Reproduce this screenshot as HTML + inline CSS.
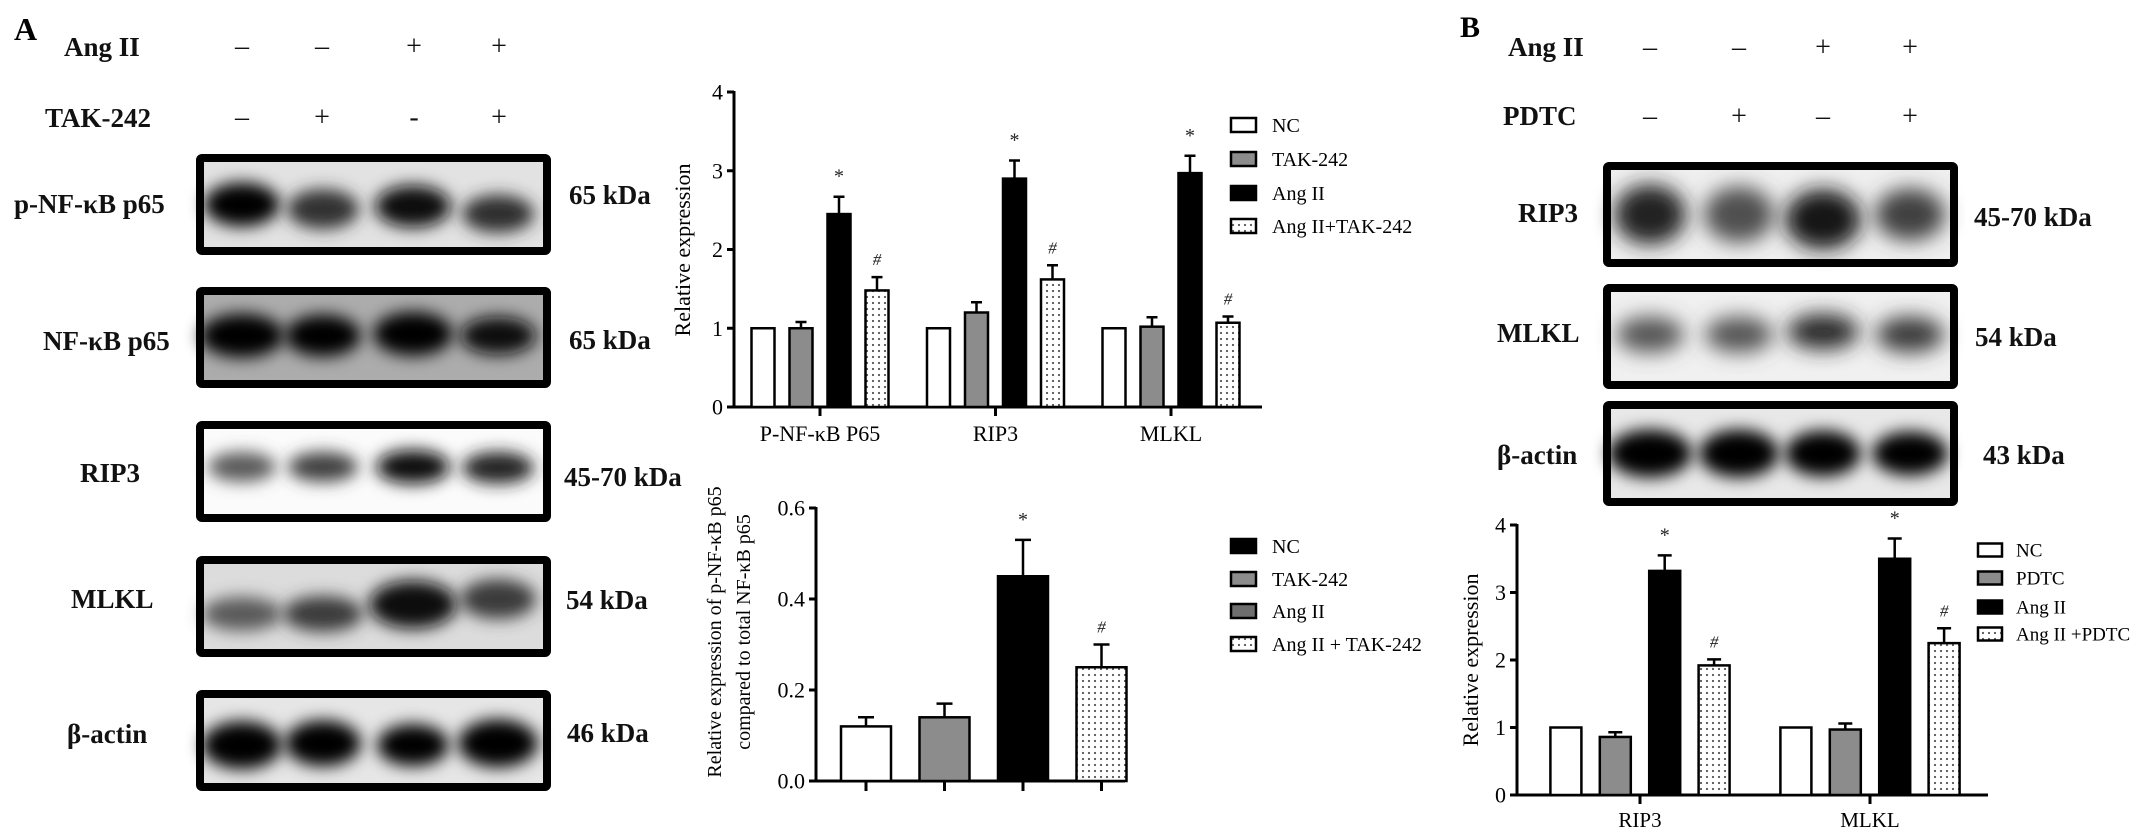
<!DOCTYPE html>
<html><head><meta charset="utf-8">
<style>
html,body{margin:0;padding:0;background:#fff;}
svg{display:block;font-family:"Liberation Serif",serif;}
.lb{font-weight:bold;font-size:27px;fill:#111;}
</style></head>
<body>
<svg id="fig" width="2150" height="840" viewBox="0 0 2150 840" xmlns="http://www.w3.org/2000/svg">
<defs>
 <filter id="bl" x="-30%" y="-60%" width="160%" height="220%"><feGaussianBlur stdDeviation="8"/></filter>
 <filter id="bl2" x="-30%" y="-60%" width="160%" height="220%"><feGaussianBlur stdDeviation="10"/></filter>
 <pattern id="dots" width="6" height="6" patternUnits="userSpaceOnUse">
  <rect width="6" height="6" fill="#fff"/><circle cx="3" cy="3" r="1.1" fill="#555"/>
 </pattern>
</defs>

<!-- Panel A header -->
<text x="14" y="40" font-size="32" font-weight="bold">A</text>
<text class="lb" x="64" y="56">Ang II</text>
<text class="lb" x="45" y="127">TAK-242</text>
<g font-size="28" text-anchor="middle" fill="#111">
 <text x="242" y="55">–</text><text x="322" y="55">–</text><text x="414" y="55">+</text><text x="499" y="55">+</text>
 <text x="242" y="126">–</text><text x="322" y="126">+</text><text x="414" y="126">-</text><text x="499" y="126">+</text>
</g>

<!-- Panel A blots -->
<g id="blotsA"></g>
<g class="lb">
 <text x="14" y="213">p-NF-κB p65</text>
 <text x="43" y="350">NF-κB p65</text>
 <text x="80" y="482">RIP3</text>
 <text x="71" y="608">MLKL</text>
 <text x="67" y="743">β-actin</text>
</g>
<g class="lb">
 <text x="569" y="204">65 kDa</text>
 <text x="569" y="349">65 kDa</text>
 <text x="564" y="486">45-70 kDa</text>
 <text x="566" y="609">54 kDa</text>
 <text x="567" y="742">46 kDa</text>
</g>

<!-- Panel B header -->
<text x="1460" y="37" font-size="30" font-weight="bold">B</text>
<text class="lb" x="1508" y="56">Ang II</text>
<text class="lb" x="1503" y="125">PDTC</text>
<g font-size="28" text-anchor="middle" fill="#111">
 <text x="1650" y="56">–</text><text x="1739" y="56">–</text><text x="1823" y="56">+</text><text x="1910" y="56">+</text>
 <text x="1650" y="125">–</text><text x="1739" y="125">+</text><text x="1823" y="125">–</text><text x="1910" y="125">+</text>
</g>
<g id="blotsB"></g>
<g class="lb">
 <text x="1518" y="222">RIP3</text>
 <text x="1497" y="342">MLKL</text>
 <text x="1497" y="464">β-actin</text>
</g>
<g class="lb">
 <text x="1974" y="226">45-70 kDa</text>
 <text x="1975" y="346">54 kDa</text>
 <text x="1983" y="464">43 kDa</text>
</g>

<g id="charts"></g>
</svg>

<script>
// ---------- Chart A1 data ----------
const a1Categories = ['P-NF-κB P65', 'RIP3', 'MLKL'];
const a1Series = ['NC', 'TAK-242', 'Ang II', 'Ang II+TAK-242'];
const a1NC = [1, 1, 1];
const a1TAK = [1.0, 1.2, 1.02];
const a1Ang = [2.45, 2.9, 2.97];
const a1Combo = [1.48, 1.62, 1.07];
const a1ErrNC = [0, 0, 0];
const a1ErrTAK = [0.08, 0.13, 0.12];
const a1ErrAng = [0.22, 0.23, 0.22];
const a1ErrCombo = [0.17, 0.18, 0.08];
const a1MarksAng = ['*', '*', '*'];
const a1MarksCombo = ['#', '#', '#'];
const a1Ticks = [0, 1, 2, 3, 4];
const a1TickLabels = ['0', '1', '2', '3', '4'];

// ---------- Chart A2 data ----------
const a2Categories = ['NC', 'TAK-242', 'Ang II', 'Ang II + TAK-242'];
const a2Values = [0.12, 0.14, 0.45, 0.25];
const a2Errors = [0.02, 0.03, 0.08, 0.05];
const a2Marks = ['', '', '*', '#'];
const a2Ticks = [0, 0.2, 0.4, 0.6];
const a2TickLabels = ['0.0', '0.2', '0.4', '0.6'];

// ---------- Chart B data ----------
const bCategories = ['RIP3', 'MLKL'];
const bSeries = ['NC', 'PDTC', 'Ang II', 'Ang II +PDTC'];
const bNC = [1, 1];
const bPDTC = [0.86, 0.97];
const bAng = [3.32, 3.5];
const bCombo = [1.92, 2.25];
const bErrNC = [0, 0];
const bErrPDTC = [0.07, 0.09];
const bErrAng = [0.23, 0.3];
const bErrCombo = [0.09, 0.22];
const bMarksAng = ['*', '*'];
const bMarksCombo = ['#', '#'];
const bTicks = [0, 1, 2, 3, 4];
const bTickLabels = ['0', '1', '2', '3', '4'];

const NS = 'http://www.w3.org/2000/svg';
function mk(tag, attrs, parent) {
  const e = document.createElementNS(NS, tag);
  for (const k in attrs) e.setAttribute(k, attrs[k]);
  parent.appendChild(e);
  return e;
}
const FILLS = ['#ffffff', '#8c8c8c', '#000000', 'url(#dots)'];

// ---------- blots ----------
function blot(parent, name, x, y, w, h, bg, lanes, bands) {
  const g = mk('g', {}, parent);
  
  
  mk('rect', {x: x, y: y, width: w, height: h, fill: bg}, g);
  bands.forEach((b, i) => {
    mk('ellipse', {cx: lanes[i] + (b.dx || 0), cy: y + h * b.cy, rx: b.rx, ry: b.ry, fill: b.c, filter: b.f || 'url(#bl)'}, g);
  });
  mk('rect', {x: x, y: y, width: w, height: h, fill: 'none', stroke: '#000', 'stroke-width': 8, rx: 2}, g);
}
const LA = [242, 323, 413, 498];
const bA = document.getElementById('blotsA');
blot(bA, 'blot-p-nf-kb-p65', 200, 158, 347, 93, '#e2e2e2', LA, [
  {cy: .5, rx: 38, ry: 22, c: '#050505'}, {cy: .55, rx: 36, ry: 20, c: '#333'}, {cy: .52, rx: 38, ry: 21, c: '#111'}, {cy: .6, rx: 36, ry: 19, c: '#2e2e2e'}]);
blot(bA, 'blot-nf-kb-p65', 200, 291, 347, 93, '#acacac', LA, [
  {cy: .48, rx: 42, ry: 22, c: '#000'}, {cy: .48, rx: 38, ry: 21, c: '#000'}, {cy: .46, rx: 40, ry: 22, c: '#000'}, {cy: .48, rx: 38, ry: 19, c: '#0c0c0c'}]);
blot(bA, 'blot-rip3-a', 200, 425, 347, 93, '#fbfbfb', LA, [
  {cy: .45, rx: 34, ry: 15, c: '#5a5a5a'}, {cy: .45, rx: 35, ry: 15, c: '#404040'}, {cy: .45, rx: 37, ry: 17, c: '#111'}, {cy: .46, rx: 36, ry: 16, c: '#222'}]);
blot(bA, 'blot-mlkl-a', 200, 560, 347, 93, '#dcdcdc', LA, [
  {cy: .58, rx: 40, ry: 17, c: '#5a5a5a'}, {cy: .58, rx: 40, ry: 18, c: '#3a3a3a'}, {cy: .48, rx: 44, ry: 24, c: '#111'}, {cy: .42, rx: 38, ry: 20, c: '#3a3a3a'}]);
blot(bA, 'blot-beta-actin-a', 200, 694, 347, 93, '#e6e6e6', LA, [
  {cy: .55, rx: 40, ry: 24, c: '#000'}, {cy: .53, rx: 38, ry: 23, c: '#000'}, {cy: .55, rx: 36, ry: 21, c: '#000'}, {cy: .53, rx: 40, ry: 24, c: '#000'}]);

const LB = [1650, 1739, 1823, 1910];
const bB = document.getElementById('blotsB');
blot(bB, 'blot-rip3-b', 1607, 166, 347, 97, '#efefef', LB, [
  {cy: .5, rx: 36, ry: 30, c: '#202020', f: 'url(#bl2)'}, {cy: .5, rx: 35, ry: 28, c: '#505050', f: 'url(#bl2)'}, {cy: .55, rx: 38, ry: 30, c: '#151515', f: 'url(#bl2)'}, {cy: .5, rx: 35, ry: 26, c: '#404040', f: 'url(#bl2)'}]);
blot(bB, 'blot-mlkl-b', 1607, 288, 347, 97, '#f0f0f0', LB, [
  {cy: .48, rx: 34, ry: 18, c: '#555', f: 'url(#bl2)'}, {cy: .48, rx: 34, ry: 18, c: '#555', f: 'url(#bl2)'}, {cy: .45, rx: 36, ry: 18, c: '#2a2a2a', f: 'url(#bl2)'}, {cy: .48, rx: 34, ry: 18, c: '#3a3a3a', f: 'url(#bl2)'}]);
blot(bB, 'blot-beta-actin-b', 1607, 405, 347, 97, '#e8e8e8', LB, [
  {cy: .5, rx: 42, ry: 24, c: '#000'}, {cy: .5, rx: 40, ry: 24, c: '#000'}, {cy: .5, rx: 38, ry: 23, c: '#000'}, {cy: .5, rx: 38, ry: 22, c: '#050505'}]);

// ---------- chart helpers ----------
const charts = document.getElementById('charts');
function yAxis(g, ax, y0, unit, ticks, labels, fs) {
  mk('line', {x1: ax, y1: y0 + 1, x2: ax, y2: y0 - ticks[ticks.length - 1] * unit - 1, stroke: '#000', 'stroke-width': 3}, g);
  ticks.forEach((t, i) => {
    const y = y0 - t * unit;
    const tk = mk('line', {x1: ax - 7, y1: y, x2: ax, y2: y, stroke: '#000', 'stroke-width': 3}, g);
    
    
    const lb = mk('text', {x: ax - 11, y: y + fs * 0.35, 'font-size': fs, 'text-anchor': 'end'}, g);
    
    
    lb.textContent = labels[i];
  });
}
function bar(g, cx, w, y0, unit, v, err, fill, cap, mark, name) {
  const top = y0 - v * unit;
  const r = mk('rect', {x: cx - w / 2, y: top, width: w, height: v * unit, fill: fill, stroke: '#000', 'stroke-width': 2.5}, g);
  
  
  if (err > 0) {
    const et = top - err * unit;
    const el = mk('path', {d: 'M' + cx + ' ' + top + 'V' + et + 'M' + (cx - cap / 2) + ' ' + et + 'H' + (cx + cap / 2), stroke: '#000', 'stroke-width': 2.5, fill: 'none'}, g);
    
    
  }
  if (mark) {
    const mt = mk('text', {x: cx, y: top - err * unit - (mark === '*' ? 14 : 12), 'font-size': mark === '*' ? 20 : 17, 'text-anchor': 'middle', 'font-style': mark === '#' ? 'italic' : 'normal', fill: '#222'}, g);
    
    
    mt.textContent = mark;
  }
}
function legend(g, x, ys, labels, fills, bw, bh, fs, tx) {
  labels.forEach((l, i) => {
    const e = mk('g', {}, g);
    
    
    mk('rect', {x: x, y: ys[i] - bh / 2, width: bw, height: bh, fill: fills[i], stroke: '#000', 'stroke-width': 2.5}, e);
    const t = mk('text', {x: tx, y: ys[i] + fs * 0.35, 'font-size': fs}, e);
    t.textContent = l;
  });
}

// ---------- Chart A1 ----------
(function () {
  const g = mk('g', {}, charts);
  
  
  const ax = 734, y0 = 407, unit = 78.75, x0 = 820, gs = 175.5, pitch = 38, bw = 23;
  const xC = i => x0 + i * gs;
  yAxis(g, ax, y0, unit, a1Ticks, a1TickLabels, 22);
  mk('line', {x1: ax, y1: y0, x2: 1262, y2: y0, stroke: '#000', 'stroke-width': 3}, g);
  const t = mk('text', {x: 0, y: 0, 'font-size': 22, 'text-anchor': 'middle', transform: 'translate(690,250) rotate(-90)'}, g);
  
  
  t.textContent = 'Relative expression';
  const series = [a1NC, a1TAK, a1Ang, a1Combo], errs = [a1ErrNC, a1ErrTAK, a1ErrAng, a1ErrCombo];
  a1Categories.forEach((c, i) => {
    series.forEach((s, j) => {
      const mark = j === 2 ? a1MarksAng[i] : (j === 3 ? a1MarksCombo[i] : '');
      bar(g, xC(i) + (j - 1.5) * pitch, bw, y0, unit, s[i], errs[j][i], FILLS[j], 11, mark, 'bar-' + j + '-' + i);
    });
    mk('line', {x1: xC(i), y1: y0, x2: xC(i), y2: y0 + 9, stroke: '#000', 'stroke-width': 3}, g);
    const cl = mk('text', {x: xC(i), y: y0 + 34, 'font-size': 22, 'text-anchor': 'middle'}, g);
    
    
    cl.textContent = c;
  });
  legend(g, 1231, [125, 159, 193, 226], a1Series, FILLS, 25, 14, 20, 1272);
})();

// ---------- Chart A2 ----------
(function () {
  const g = mk('g', {}, charts);
  
  
  const ax = 816, y0 = 781, unit = 455, x0 = 866, pitch = 78.5, bw = 50;
  yAxis(g, ax, y0, unit, a2Ticks, a2TickLabels, 22);
  mk('line', {x1: ax, y1: y0, x2: 1125, y2: y0, stroke: '#000', 'stroke-width': 3}, g);
  const t = mk('text', {x: 0, y: 0, 'font-size': 20, 'text-anchor': 'middle', transform: 'translate(721,632) rotate(-90)'}, g);
  
  
  t.textContent = 'Relative expression of p-NF-κB p65';
  const t2 = mk('text', {x: 0, y: 0, 'font-size': 20, 'text-anchor': 'middle', transform: 'translate(750,632) rotate(-90)'}, g);
  
  
  t2.textContent = 'compared to total NF-κB p65';
  a2Values.forEach((v, i) => {
    const cx = x0 + i * pitch;
    bar(g, cx, bw, y0, unit, v, a2Errors[i], FILLS[i], 16, a2Marks[i], 'bar-' + i);
    mk('line', {x1: cx, y1: y0, x2: cx, y2: y0 + 10, stroke: '#000', 'stroke-width': 3}, g);
  });
  legend(g, 1231, [546, 579, 611, 644], a2Categories, ['#000', '#8c8c8c', '#6e6e6e', 'url(#dots)'], 25, 14, 20, 1272);
})();

// ---------- Chart B ----------
(function () {
  const g = mk('g', {}, charts);
  
  
  const ax = 1517, y0 = 795, unit = 67.5, x0 = 1640, gs = 230, pitch = 49.4, bw = 31;
  const xC = i => x0 + i * gs;
  yAxis(g, ax, y0, unit, bTicks, bTickLabels, 22);
  mk('line', {x1: ax, y1: y0, x2: 1988, y2: y0, stroke: '#000', 'stroke-width': 3}, g);
  const t = mk('text', {x: 0, y: 0, 'font-size': 22, 'text-anchor': 'middle', transform: 'translate(1478,660) rotate(-90)'}, g);
  
  
  t.textContent = 'Relative expression';
  const series = [bNC, bPDTC, bAng, bCombo], errs = [bErrNC, bErrPDTC, bErrAng, bErrCombo];
  bCategories.forEach((c, i) => {
    series.forEach((s, j) => {
      const mark = j === 2 ? bMarksAng[i] : (j === 3 ? bMarksCombo[i] : '');
      bar(g, xC(i) + (j - 1.5) * pitch, bw, y0, unit, s[i], errs[j][i], FILLS[j], 14, mark, 'bar-' + j + '-' + i);
    });
    mk('line', {x1: xC(i), y1: y0, x2: xC(i), y2: y0 + 9, stroke: '#000', 'stroke-width': 3}, g);
    const cl = mk('text', {x: xC(i), y: y0 + 32, 'font-size': 21, 'text-anchor': 'middle'}, g);
    
    
    cl.textContent = c;
  });
  legend(g, 1978, [550, 578, 607, 634], bSeries, FILLS, 24, 13, 19, 2016);
})();
</script>
</body></html>
